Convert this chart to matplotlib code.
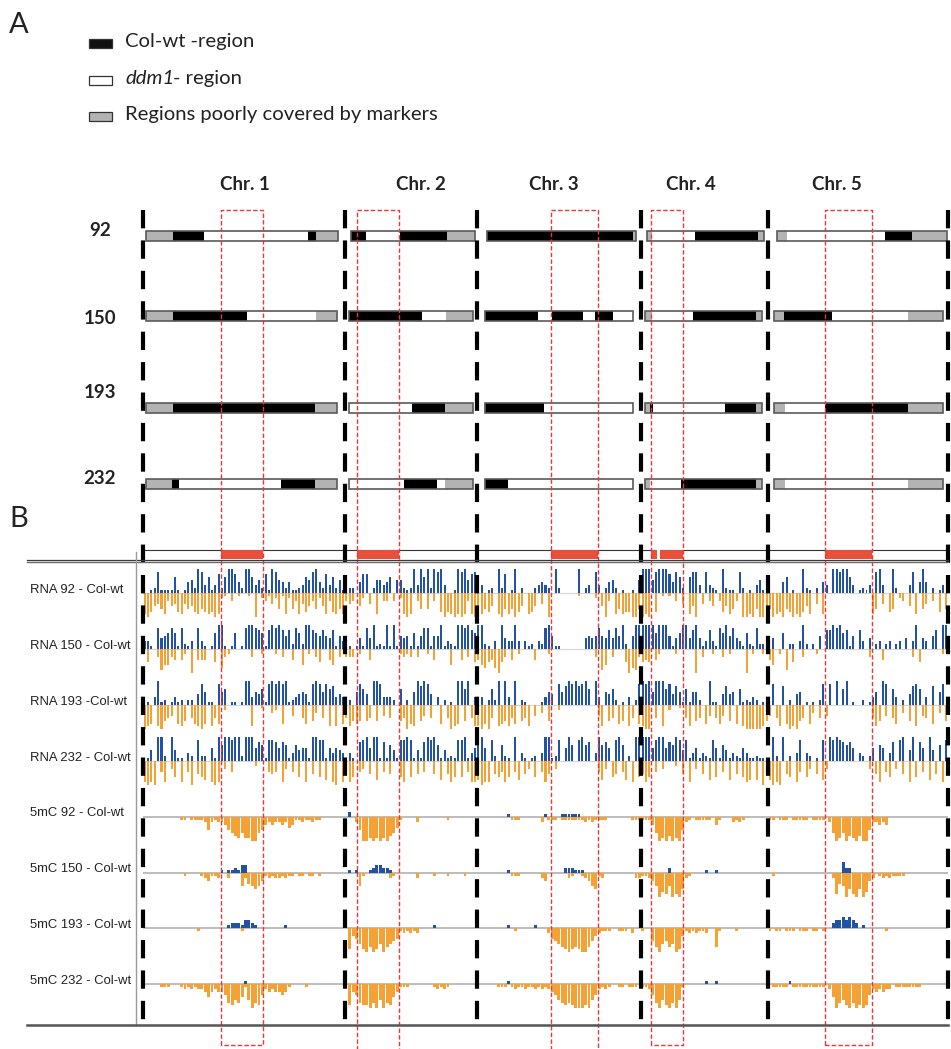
import matplotlib
matplotlib.use("Agg")
import matplotlib.pyplot as plt
from matplotlib.lines import Line2D
from matplotlib.patches import Rectangle

# ---------------------------------------------------------------- data ----
CHR_NAMES = ["Chr. 1", "Chr. 2", "Chr. 3", "Chr. 4", "Chr. 5"]
CHR_LEN = [30.1, 19.7, 24.5, 19.0, 26.8]          # Mb
SAMPLES = ["92", "150", "193", "232"]

# regions of interest: (chromosome index, start Mb, end Mb)
ROI = [(0, 11.6, 17.9), (1, 1.8, 8.1), (2, 11.1, 18.1), (3, 1.5, 6.2), (4, 8.5, 15.5)]
ROI_GAPS = [(3, 2.4, 2.85)]

# genotype blocks per line: (start Mb, end Mb, state) C = Col-wt, d = ddm1, g = poorly covered
GENO_92 = [
    [(0.45, 4.5, "g"), (4.5, 9.1, "C"), (9.1, 24.6, "d"), (24.6, 25.8, "C"), (25.8, 29.1, "g")],
    [(0.9, 3.2, "C"), (3.2, 8.3, "d"), (8.3, 15.3, "C"), (15.3, 19.4, "g")],
    [(1.5, 23.3, "C"), (23.3, 23.8, "g")],
    [(0.9, 1.7, "g"), (1.7, 8.1, "d"), (8.1, 17.5, "C"), (17.5, 18.4, "g")],
    [(1.3, 2.8, "g"), (2.8, 17.4, "d"), (17.4, 21.5, "C"), (21.5, 26.6, "g")],
]
GENO_150 = [
    [(0.45, 4.5, "g"), (4.5, 15.5, "C"), (15.5, 25.8, "d"), (25.8, 29.0, "g")],
    [(0.7, 11.5, "C"), (11.5, 15.1, "d"), (15.1, 19.2, "g")],
    [(1.2, 9.1, "C"), (9.1, 11.2, "d"), (11.2, 15.8, "C"), (15.8, 17.7, "d"), (17.7, 20.3, "C"), (20.3, 23.3, "d")],
    [(0.6, 1.6, "g"), (1.6, 7.7, "d"), (7.7, 17.1, "C"), (17.1, 18.0, "g")],
    [(0.9, 2.4, "g"), (2.4, 9.5, "C"), (9.5, 20.8, "d"), (20.8, 26.1, "g")],
]
GENO_193 = [
    [(0.45, 4.5, "g"), (4.5, 25.7, "C"), (25.7, 29.0, "g")],
    [(0.7, 10.1, "d"), (10.1, 15.0, "C"), (15.0, 19.2, "g")],
    [(1.2, 10.0, "C"), (10.0, 23.3, "d")],
    [(0.6, 1.4, "g"), (1.4, 1.8, "C"), (1.8, 12.6, "d"), (12.6, 17.1, "C"), (17.1, 18.0, "g")],
    [(0.9, 2.5, "g"), (2.5, 8.5, "d"), (8.5, 20.9, "C"), (20.9, 26.1, "g")],
]
GENO_232 = [
    [(0.45, 4.4, "g"), (4.4, 5.3, "C"), (5.3, 20.6, "d"), (20.6, 25.7, "C"), (25.7, 29.0, "g")],
    [(0.7, 8.9, "d"), (8.9, 13.7, "C"), (13.7, 15.0, "d"), (15.0, 19.2, "g")],
    [(1.2, 4.6, "C"), (4.6, 23.3, "d")],
    [(0.6, 1.4, "g"), (1.4, 6.0, "d"), (6.0, 17.1, "C"), (17.1, 18.0, "g")],
    [(0.9, 2.5, "g"), (2.5, 20.8, "d"), (20.8, 26.1, "g")],
]

# binned track values (0-9 per 0.5 Mb bin), one string per chromosome
RNA_UP_92 = [
    "0012811116 1014529836 1372699742 9963527198 5424112365 8942736251",
    "2220477025 5346055212 9396929893 001989578",
    "3301209270 1902000234 3209200000 9023083024 520100105",
    "9995899974 8620688308 3210921108 20103510",
    "0000460100 9210204309 9899630121 3089300920 0038049402 0130",
]
RNA_DOWN_92 = [
    "8975468354 7846578678 7982103010 0109023142 6182638475 3625837868",
    "3430520408 0330302898 0360603079 789898389",
    "8867508968 6975087504 0900000000 1000020593 086877996",
    "9890701010 3040859040 3503758630 99896999",
    "6987967989 7580408000 0000000000 0860407602 3050806403 0706",
]
RNA_UP_150 = [
    "3310845686 1821308310 1699101601 8998761798 9757286299 7657547153",
    "3101418491 2191915451 6158815591 321998976",
    "9921030943 3930312032 8951100000 0045458547 485920599",
    "9999699951 4699479413 7318695843 16218221",
    "0400602203 9202050779 8967150730 4023023023 0403904305 7099",
]
RNA_DOWN_150 = [
    "0500386634 0420904440 0507320000 0030020002 0300400602 0350046030",
    "3330200400 0000002323 0300204000 060040305",
    "4675479530 4020000400 0200000000 0000030860 300059783",
    "5450420000 2000009030 0200302000 09020020",
    "4602080500 3000200000 0000000000 3000400000 0003050000 0020",
]
RNA_UP_193 = [
    "0103912013 1202204851 1085601101 9935461898 9891234541 8985867343",
    "0205864099 8333206020 5979840302 010996903",
    "3302629093 0902100001 3540857989 7896093054 620103028",
    "9895999684 7516155200 9110474506 12132010",
    "0800702045 0101028080 9069010020 1350980630 2047860307 0580",
]
RNA_DOWN_193 = [
    "9870896540 7860578970 8570200000 0080010032 0700400570 6305080807",
    "5867606506 0405006597 8064050070 598706058",
    "8979508768 5706580403 0600200000 0000004806 507608507",
    "8990508020 0105806507 4057406070 89999986",
    "4058079896 5073050400 0000000000 0586040570 3060804507 0306",
]
RNA_UP_232 = [
    "0140992094 1103208220 5196998992 9995761887 5761364551 9988153543",
    "0310789599 1716418898 1417989614 121889135",
    "9950820621 0903101203 9912805960 8967039675 089602099",
    "9995899576 9848135132 1851641321 53112110",
    "0920902038 0320108098 9876750320 2506503708 9049075094 0608",
]
RNA_DOWN_232 = [
    "8989048036 0804905670 8980304000 0002000454 0830406080 5060708908",
    "5860430507 0405006806 0504005070 586060488",
    "7988056486 0470530604 8503000000 0000004730 650470806",
    "5860403000 2050803050 7060407050 68707090",
    "7989056084 0630507300 0000000000 3058046030 5080604070 5080",
]

MC_UP_92 = [
    "0",
    "0200000000 0000000000 0000000000 000000000",
    "0000000001 0000000000 1000011111 1000000000 000000000",
    "0",
    "0",
]
MC_DOWN_92 = [
    "0000000000 0110111125 2122356786 8899653232 2324311211 2110000000",
    "0002599898 9897641000 0200000000 100000000",
    "0000000000 1110000002 0111011111 1121211110 000000111",
    "1113698979 8952101111 1031000212 10000000",
    "1101110111 1101111026 9869789799 5223230000 0000000000 0000",
]
MC_UP_150 = [
    "0000000000 0000000000 0001011213 3000000000 0000000000 0000000000",
    "0101000123 3221000000 0000000000 000000000",
    "0000000001 0000000000 0000002221 1100000000 000000000",
    "0000000020 0000000001 0010000000 00000000",
    "0000000000 0000000000 0042200000 0000000000 0000000000 0000",
]
MC_DOWN_150 = [
    "0000000000 0010000123 1120020005 2456531212 2121101101 1010000000",
    "0000510000 0002100000 0200001000 100001000",
    "0000000000 1110000002 3000000210 0123561200 000000022",
    "1123597859 8962100000 0000000000 00000000",
    "0100000000 0000000002 8459689697 3201212111 1000000000 0000",
]
MC_UP_193 = [
    "0000000000 0000000000 0000012221 3321000000 0010000000 0000000000",
    "0000000000 0000000000 0000001000 000000000",
    "0000000001 0000000100 0000000000 0000000000 000000000",
    "0",
    "0000000000 0000000002 3343432010 0000000000 0000000000 0000",
]
MC_DOWN_193 = [
    "0000000000 0000001000 0000000001 0000000000 0000000000 0000000000",
    "0834689798 6976541212 1200000000 000000000",
    "0000000000 0100000000 0245678987 8997532111 001110200",
    "1005796576 9831212112 0071000010 00000000",
    "1011011101 1101101000 0000000000 0000010000 0000000000 0000",
]
MC_UP_232 = [
    "0000000000 0000000000 0000000000 1000000000 0000000000 0000000000",
    "0",
    "0000000001 0000000000 0000000000 0000000000 000000000",
    "0000000000 0000000001 0010000000 00000000",
    "0000001000 0000000000 0000000000 0000000000 0000000000 0000",
]
MC_DOWN_232 = [
    "0000011100 0121212235 3233478675 1697842323 3431000010 0000000000",
    "0834788979 6978531110 0000001212 100000000",
    "0000001110 1211211212 1234678789 9989642121 001101110",
    "1124796897 9610000000 0000000000 00000000",
    "0111110111 1111111025 9768979898 4232322011 1111110000 0000",
]

RNA_LABELS = ["RNA 92 - Col-wt", "RNA 150 - Col-wt", "RNA 193 -Col-wt", "RNA 232 - Col-wt"]
MC_LABELS = ["5mC 92 - Col-wt", "5mC 150 - Col-wt", "5mC 193 - Col-wt", "5mC 232 - Col-wt"]
LEGEND_LABELS = ["Col-wt -region", "ddm1", "Regions poorly covered by markers"]

# --------------------------------------------------------------- style ----
W, H = 951, 1049
BLUE = "#2152a6"
ORANGE = "#f4a236"
RED = "#e8373a"
RED_FILL = "#e8503c"
TEXT = "#222222"
STATE_COLOR = {"C": "#000000", "d": "#ffffff", "g": "#b3b3b3"}

GENOME = sum(CHR_LEN)
CHR_START = [sum(CHR_LEN[:i]) for i in range(len(CHR_LEN))]

fig = plt.figure(figsize=(W / 100, H / 100), dpi=100)
fig.patch.set_facecolor("white")


def fx(x):
    return x / W


def fy(y):
    return 1 - y / H


def px_axes(left, top, width, height):
    return fig.add_axes([fx(left), fy(top + height), width / W, height / H])


def ftext(x, y, s, **kw):
    kw.setdefault("color", TEXT)
    return fig.text(fx(x), fy(y), s, **kw)


def fline(x0, y0, x1, y1, **kw):
    fig.add_artist(Line2D([fx(x0), fx(x1)], [fy(y0), fy(y1)],
                          transform=fig.transFigure, **kw))


# ---------------------------------------------------------- track panel ----
TRACK_LEFT, TRACK_WIDTH, HALF = 143, 805, 24
RNA_BASE = [593, 649, 705, 761]
MC_BASE = [817, 873, 928, 984]


def draw_track(base, up, down, fill, line_color, line_w):
    ax = px_axes(TRACK_LEFT, base - HALF, TRACK_WIDTH, 2 * HALF)
    ax.set_xlim(0, GENOME)
    ax.set_ylim(-1, 1)
    ax.axis("off")
    ax.axhline(0, color=line_color, lw=line_w, zorder=0.5)
    for c in range(len(CHR_LEN)):
        for series, sign, color in ((up[c], 1, BLUE), (down[c], -1, ORANGE)):
            vals = [int(ch) for ch in series.replace(" ", "")]
            n = len(vals)
            w = CHR_LEN[c] / n
            xs = [CHR_START[c] + (i + 0.5) * w for i in range(n)]
            hs = [sign * v / 9 for v in vals]
            ax.bar(xs, hs, width=w * fill, color=color, linewidth=0, zorder=1)
    return ax


rna_up = [RNA_UP_92, RNA_UP_150, RNA_UP_193, RNA_UP_232]
rna_down = [RNA_DOWN_92, RNA_DOWN_150, RNA_DOWN_193, RNA_DOWN_232]
mc_up = [MC_UP_92, MC_UP_150, MC_UP_193, MC_UP_232]
mc_down = [MC_DOWN_92, MC_DOWN_150, MC_DOWN_193, MC_DOWN_232]

for k in range(4):
    draw_track(RNA_BASE[k], rna_up[k], rna_down[k], 0.6, "#d6d6d6", 0.8)
    draw_track(MC_BASE[k], mc_up[k], mc_down[k], 0.85, "#b8b8b8", 1.3)

RNA_LABEL_Y = [590, 646, 702, 758]
MC_LABEL_Y = [813, 869, 925, 981]
for lab, y in zip(RNA_LABELS, RNA_LABEL_Y):
    ftext(30, y, lab, fontsize=9.4, family="Liberation Sans", va="center")
for lab, y in zip(MC_LABELS, MC_LABEL_Y):
    ftext(30, y, lab, fontsize=9.4, family="Liberation Sans", va="center")

# frame lines of the browser panel
fline(27, 559.6, 948, 559.6, color="#3a3a3a", lw=0.9)
fline(27, 561.9, 948, 561.9, color="#6a6a6a", lw=1.0)
fline(136, 552, 136, 1025, color="#9a9a9a", lw=1.0)
fline(27, 1025, 948, 1025, color="#555555", lw=1.8)

# ------------------------------------------------------------- overlay ----
ov = fig.add_axes([fx(TRACK_LEFT), 0, TRACK_WIDTH / W, 1])
ov.set_xlim(0, GENOME)
ov.set_ylim(H, 0)
ov.axis("off")
ov.patch.set_alpha(0)

# chromosome strip with the highlighted regions
ov.add_patch(Rectangle((0, 549.5), GENOME, 10, facecolor="white", edgecolor="none", zorder=2))
ov.plot([0, GENOME], [549.5, 549.5], color="#333333", lw=0.8, zorder=2)
for c, s, e in ROI:
    ov.add_patch(Rectangle((CHR_START[c] + s, 550.3), e - s, 8.2,
                           facecolor=RED_FILL, edgecolor="none", zorder=3))
for c, s, e in ROI_GAPS:
    ov.add_patch(Rectangle((CHR_START[c] + s, 550.3), e - s, 8.2,
                           facecolor="white", edgecolor="none", zorder=3))

# genotype maps of the four lines
ROW_Y = [236, 316, 408, 484]
ROW_LABEL_Y = [230, 318, 392, 478]
for geno, y in zip([GENO_92, GENO_150, GENO_193, GENO_232], ROW_Y):
    for c, segs in enumerate(geno):
        for s, e, st in segs:
            ov.broken_barh([(CHR_START[c] + s, e - s)], (y - 5, 10),
                           facecolors=STATE_COLOR[st], edgecolor="none", zorder=2)
        x0 = CHR_START[c] + segs[0][0]
        ov.add_patch(Rectangle((x0, y - 5), segs[-1][1] - segs[0][0], 10, fill=False,
                               edgecolor="#5a5a5a", lw=1.2, zorder=3))

# red frames around the regions of interest
OPEN_BOTTOM = {1, 2}
for k, (c, s, e) in enumerate(ROI):
    x0, x1 = CHR_START[c] + s, CHR_START[c] + e
    bottom = H + 5 if k in OPEN_BOTTOM else 1045
    xs = [x0, x0, x1, x1]
    ys = [bottom, 210, 210, bottom]
    if k not in OPEN_BOTTOM:
        xs.append(x0)
        ys.append(bottom)
    ov.plot(xs, ys, color=RED, lw=1.0, ls=(0, (3.2, 1.6)), clip_on=False, zorder=4)

# chromosome borders
for b in CHR_START + [GENOME]:
    ov.plot([b, b], [210, 1025], color="black", lw=3.0, ls=(0, (4.4, 2.9)),
            clip_on=False, zorder=5)

# ---------------------------------------------------------------- text ----
CHR_LABEL_X = [245, 421, 554, 691, 837]
for name, x in zip(CHR_NAMES, CHR_LABEL_X):
    ftext(x, 185, name, ha="center", va="center", fontsize=13.5,
          weight="bold", family="Lato")
for s, y in zip(SAMPLES, ROW_LABEL_Y):
    ftext(100, y, s, ha="center", va="center", fontsize=13.5, weight="bold", family="Lato")

ftext(9, 33, "A", fontsize=21, family="Lato", va="baseline")
ftext(9, 527, "B", fontsize=21, family="Lato", va="baseline")

# legend
LEG_Y = [43.5, 80.5, 116.5]
LEG_COLORS = ["#111111", "#ffffff", "#b3b3b3"]
for y, col in zip(LEG_Y, LEG_COLORS):
    fig.add_artist(Rectangle((fx(89), fy(y + 4.5)), 23 / W, 9 / H, transform=fig.transFigure,
                             facecolor=col, edgecolor="#333333", lw=0.9))
ftext(125, 47, LEGEND_LABELS[0], fontsize=14.6, family="Lato", va="baseline")
ftext(125, 84, LEGEND_LABELS[1], fontsize=14.6, family="Lato", style="italic", va="baseline")
ftext(173, 84, "- region", fontsize=14.6, family="Lato", va="baseline")
ftext(125, 120, LEGEND_LABELS[2], fontsize=14.6, family="Lato", va="baseline")

fig.savefig("out.png", dpi=100)
